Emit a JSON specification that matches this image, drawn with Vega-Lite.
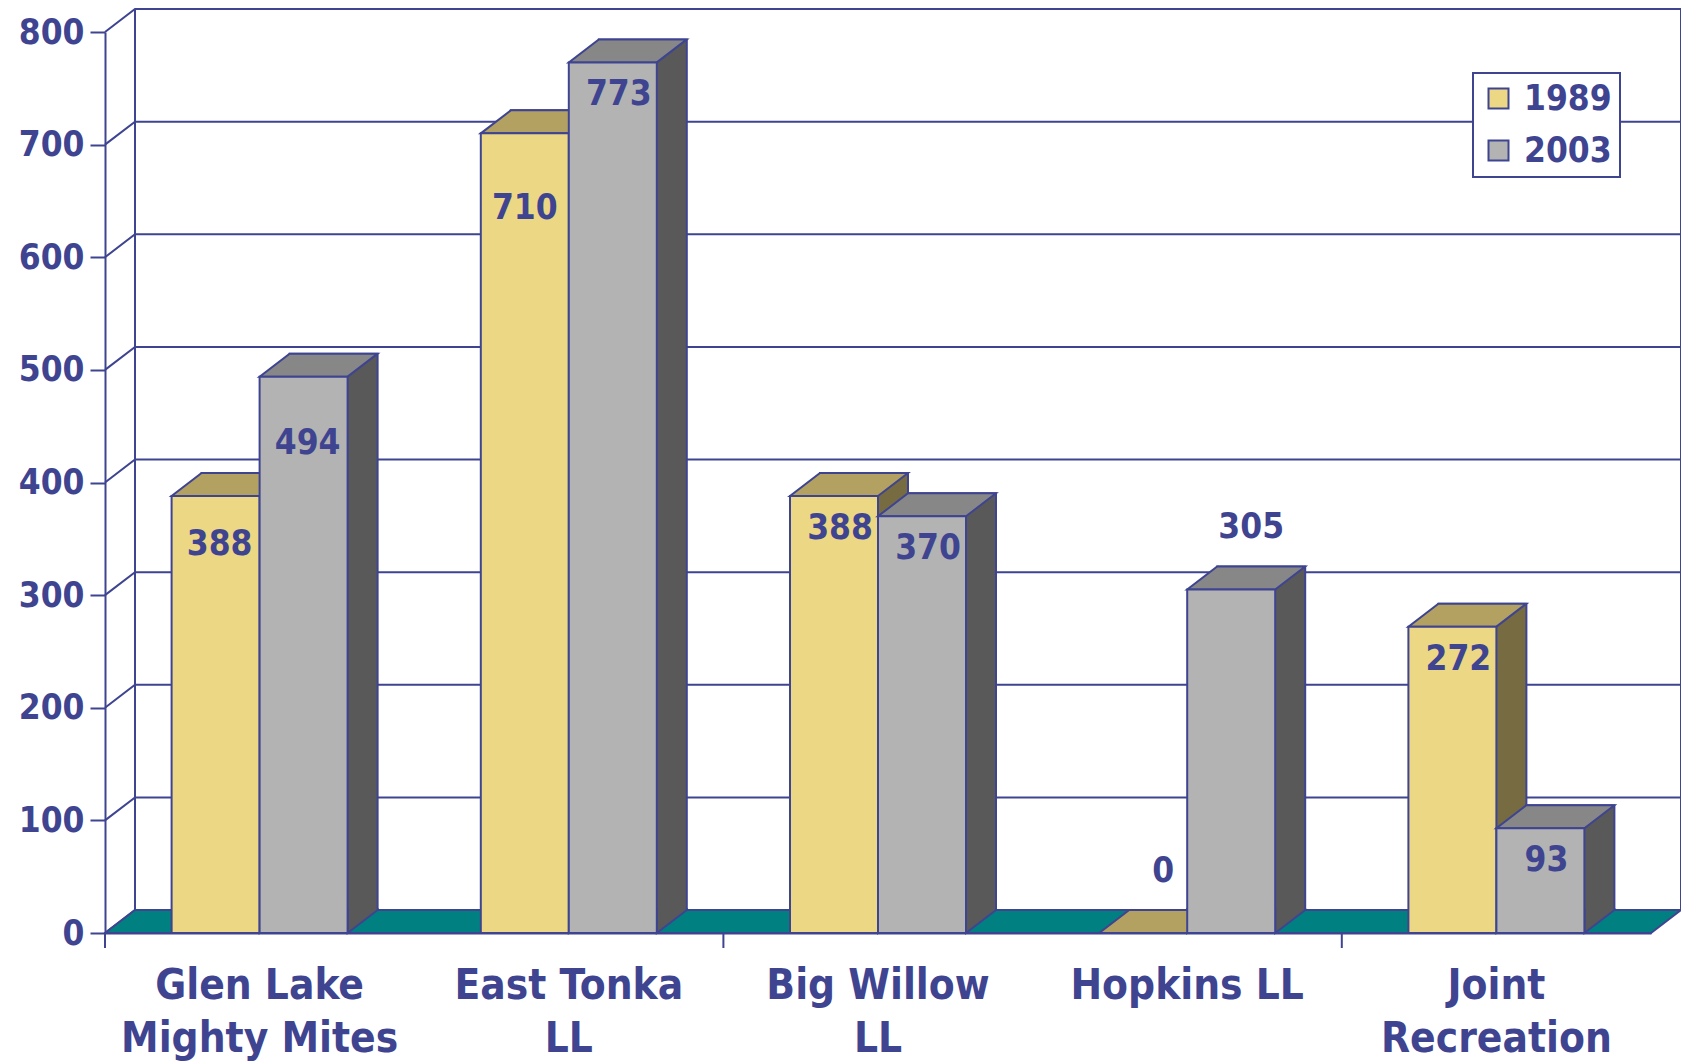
{
  "$schema": "https://vega.github.io/schema/vega-lite/v6.json",
  "width": 1546,
  "height": 901,
  "autosize": {"type": "none"},
  "padding": {"left": 105, "top": 32, "right": 30, "bottom": 128},
  "background": "white",
  "datasets": {
    "bars": [
      {"site": "Glen Lake Mighty Mites", "year": "1989", "count": 388},
      {"site": "Glen Lake Mighty Mites", "year": "2003", "count": 494},
      {"site": "East Tonka LL", "year": "1989", "count": 710},
      {"site": "East Tonka LL", "year": "2003", "count": 773},
      {"site": "Big Willow LL", "year": "1989", "count": 388},
      {"site": "Big Willow LL", "year": "2003", "count": 370},
      {"site": "Hopkins LL", "year": "1989", "count": 0},
      {"site": "Hopkins LL", "year": "2003", "count": 305},
      {"site": "Joint Recreation", "year": "1989", "count": 272},
      {"site": "Joint Recreation", "year": "2003", "count": 93}
    ],
    "ticks": [{"v": 0}, {"v": 100}, {"v": 200}, {"v": 300}, {"v": 400}, {"v": 500}, {"v": 600}, {"v": 700}, {"v": 800}]
  },
  "config": {
    "view": {"stroke": null},
    "font": "DejaVu Sans Condensed, DejaVu Sans",
    "legend": {"strokeColor": "#3f4491", "strokeWidth": 2, "fillColor": "white"},
    "axisX": {
      "ticks": false, "domain": true, "domainColor": "#3f4491", "domainWidth": 2,
      "labelFont": "DejaVu Sans Condensed, DejaVu Sans", "labelFontSize": 42, "labelFontWeight": "bold",
      "labelColor": "#3f4491", "labelAngle": 0, "labelPadding": 32, "labelLineHeight": 53, "labelLimit": 0,
      "grid": false,
      "labelExpr": "datum.value == 'Glen Lake Mighty Mites' ? ['Glen Lake', 'Mighty Mites'] : datum.value == 'East Tonka LL' ? ['East Tonka', 'LL'] : datum.value == 'Big Willow LL' ? ['Big Willow', 'LL'] : datum.value == 'Joint Recreation' ? ['Joint', 'Recreation'] : datum.value"
    },
    "axisY": {
      "ticks": true, "tickSize": 15, "tickWidth": 2, "tickColor": "#3f4491",
      "domain": true, "domainColor": "#3f4491", "domainWidth": 2,
      "labelFont": "DejaVu Sans Condensed, DejaVu Sans", "labelFontSize": 35, "labelFontWeight": "bold",
      "labelColor": "#3f4491", "labelPadding": 6, "grid": false, "tickCount": 8
    }
  },
  "layer": [
    {
      "data": {"name": "ticks"},
      "mark": {"type": "point", "shape": "M-773,0L-743,-23L803,-23", "size": 4, "filled": false, "stroke": "#3f4491", "strokeWidth": 2, "opacity": 1},
      "encoding": {"y": {"field": "v", "type": "quantitative", "title": null, "scale": {"domain": [0, 800], "nice": false}}}
    },
    {
      "data": {"name": "ticks"},
      "transform": [{"filter": "datum.v == 800"}],
      "mark": {"type": "point", "shape": "M-743,-23L-743,878M803,-23L803,878", "size": 4, "filled": false, "stroke": "#3f4491", "strokeWidth": 2, "opacity": 1},
      "encoding": {"y": {"field": "v", "type": "quantitative", "title": null}}
    },
    {
      "data": {"name": "ticks"},
      "transform": [{"filter": "datum.v == 0"}],
      "mark": {"type": "point", "shape": "M-773,0L773,0L803,-23L-743,-23Z", "size": 4, "filled": true, "fill": "#008080", "stroke": "#3f4491", "strokeWidth": 2, "opacity": 1},
      "encoding": {"y": {"field": "v", "type": "quantitative", "title": null}}
    },
    {
      "data": {"name": "bars"},
      "transform": [{"filter": "datum.year == '1989' && indexof(['Glen Lake Mighty Mites', 'Big Willow LL', 'Joint Recreation'], datum.site) >= 0"}],
      "mark": {"type": "point", "shape": "M0,0L0,15", "size": 4, "filled": false, "stroke": "#3f4491", "strokeWidth": 2, "opacity": 1},
      "encoding": {
        "x": {"field": "site", "type": "nominal", "bandPosition": 0, "title": null, "sort": ["Glen Lake Mighty Mites", "East Tonka LL", "Big Willow LL", "Hopkins LL", "Joint Recreation"], "scale": {"domain": ["Glen Lake Mighty Mites", "East Tonka LL", "Big Willow LL", "Hopkins LL", "Joint Recreation"], "paddingInner": 0, "paddingOuter": 0}},
        "y": {"datum": 0, "type": "quantitative", "title": null}
      }
    },
    {
      "data": {"name": "bars"},
      "transform": [{"filter": "datum.year == '1989'"}],
      "mark": {"type": "bar", "width": 88, "xOffset": -14, "yOffset": -23, "y2Offset": -23, "fill": "#766b41", "stroke": "#3f4491", "strokeWidth": 2},
      "encoding": {
        "x": {"field": "site", "type": "nominal", "title": null},
        "y": {"field": "count", "type": "quantitative", "title": null}
      }
    },
    {
      "data": {"name": "bars"},
      "transform": [{"filter": "datum.year == '1989'"}],
      "mark": {"type": "point", "shape": "M44,-25L44,0L74,-23L74,-25", "size": 4, "filled": true, "fill": "#766b41", "stroke": "#3f4491", "strokeWidth": 2, "opacity": 1, "xOffset": -44},
      "encoding": {
        "x": {"field": "site", "type": "nominal", "title": null},
        "y": {"datum": 0, "type": "quantitative", "title": null}
      }
    },
    {
      "data": {"name": "bars"},
      "transform": [{"filter": "datum.year == '1989'"}],
      "mark": {"type": "point", "shape": "M-44,0L44,0L74,-23L-14,-23Z", "size": 4, "filled": true, "fill": "#b3a162", "stroke": "#3f4491", "strokeWidth": 2, "opacity": 1, "xOffset": -44},
      "encoding": {
        "x": {"field": "site", "type": "nominal", "title": null},
        "y": {"field": "count", "type": "quantitative", "title": null}
      }
    },
    {
      "data": {"name": "bars"},
      "transform": [{"filter": "datum.year == '1989'"}],
      "mark": {"type": "bar", "width": 88, "xOffset": -44, "stroke": "#3f4491", "strokeWidth": 2, "opacity": 1},
      "encoding": {
        "x": {"field": "site", "type": "nominal", "title": null},
        "y": {"field": "count", "type": "quantitative", "title": null},
        "color": {
          "field": "year", "type": "nominal", "title": null,
          "scale": {"domain": ["1989", "2003"], "range": ["#ebd784", "#b3b3b3"]},
          "legend": {"orient": "none", "legendX": 1368, "legendY": 41, "symbolType": "square", "symbolSize": 400, "symbolStrokeColor": "#3f4491", "symbolStrokeWidth": 2, "symbolOpacity": 1, "labelFont": "DejaVu Sans Condensed, DejaVu Sans", "labelFontSize": 35, "labelFontWeight": "bold", "labelColor": "#3f4491", "labelOffset": 8, "rowPadding": 16, "padding": 8, "cornerRadius": 0}
        }
      }
    },
    {
      "data": {"name": "bars"},
      "transform": [{"filter": "datum.year == '2003'"}],
      "mark": {"type": "bar", "width": 88, "xOffset": 74, "yOffset": -23, "y2Offset": -23, "fill": "#595959", "stroke": "#3f4491", "strokeWidth": 2},
      "encoding": {
        "x": {"field": "site", "type": "nominal", "title": null},
        "y": {"field": "count", "type": "quantitative", "title": null}
      }
    },
    {
      "data": {"name": "bars"},
      "transform": [{"filter": "datum.year == '2003'"}],
      "mark": {"type": "point", "shape": "M44,-25L44,0L74,-23L74,-25", "size": 4, "filled": true, "fill": "#595959", "stroke": "#3f4491", "strokeWidth": 2, "opacity": 1, "xOffset": 44},
      "encoding": {
        "x": {"field": "site", "type": "nominal", "title": null},
        "y": {"datum": 0, "type": "quantitative", "title": null}
      }
    },
    {
      "data": {"name": "bars"},
      "transform": [{"filter": "datum.year == '2003'"}],
      "mark": {"type": "point", "shape": "M-44,0L44,0L74,-23L-14,-23Z", "size": 4, "filled": true, "fill": "#878787", "stroke": "#3f4491", "strokeWidth": 2, "opacity": 1, "xOffset": 44},
      "encoding": {
        "x": {"field": "site", "type": "nominal", "title": null},
        "y": {"field": "count", "type": "quantitative", "title": null}
      }
    },
    {
      "data": {"name": "bars"},
      "transform": [{"filter": "datum.year == '2003'"}],
      "mark": {"type": "bar", "width": 88, "xOffset": 44, "stroke": "#3f4491", "strokeWidth": 2, "opacity": 1},
      "encoding": {
        "x": {"field": "site", "type": "nominal", "title": null},
        "y": {"field": "count", "type": "quantitative", "title": null},
        "color": {
          "field": "year", "type": "nominal", "title": null,
          "scale": {"domain": ["1989", "2003"], "range": ["#ebd784", "#b3b3b3"]},
          "legend": {"orient": "none", "legendX": 1368, "legendY": 41, "symbolType": "square", "symbolSize": 400, "symbolStrokeColor": "#3f4491", "symbolStrokeWidth": 2, "symbolOpacity": 1, "labelFont": "DejaVu Sans Condensed, DejaVu Sans", "labelFontSize": 35, "labelFontWeight": "bold", "labelColor": "#3f4491", "labelOffset": 8, "rowPadding": 16, "padding": 8, "cornerRadius": 0}
        }
      }
    },
    {
      "data": {"name": "bars"},
      "transform": [{"filter": "(datum.site == 'Glen Lake Mighty Mites' && datum.year == '2003') || (datum.site == 'East Tonka LL' && datum.year == '1989')"}],
      "mark": {"type": "text", "dy": {"expr": "datum.year == '1989' ? 75 : 66"}, "dx": {"expr": "datum.year == '1989' ? -44 : 48"}, "baseline": "middle", "align": "center", "font": "DejaVu Sans Condensed, DejaVu Sans", "fontSize": 35, "fontWeight": "bold", "color": "#3f4491"},
      "encoding": {
        "x": {"field": "site", "type": "nominal", "title": null},
        "y": {"field": "count", "type": "quantitative", "title": null},
        "text": {"field": "count", "type": "quantitative"}
      }
    },
    {
      "data": {"name": "bars"},
      "transform": [{"filter": "datum.site == 'Glen Lake Mighty Mites' && datum.year == '1989'"}],
      "mark": {"type": "text", "dy": 48, "dx": -40, "baseline": "middle", "align": "center", "font": "DejaVu Sans Condensed, DejaVu Sans", "fontSize": 35, "fontWeight": "bold", "color": "#3f4491"},
      "encoding": {
        "x": {"field": "site", "type": "nominal", "title": null},
        "y": {"field": "count", "type": "quantitative", "title": null},
        "text": {"field": "count", "type": "quantitative"}
      }
    },
    {
      "data": {"name": "bars"},
      "transform": [{"filter": "datum.site != 'Hopkins LL' && datum.site != 'Glen Lake Mighty Mites' && !(datum.site == 'East Tonka LL' && datum.year == '1989')"}],
      "mark": {"type": "text", "dy": 32, "dx": {"expr": "datum.year == '1989' ? -38 : 50"}, "baseline": "middle", "align": "center", "font": "DejaVu Sans Condensed, DejaVu Sans", "fontSize": 35, "fontWeight": "bold", "color": "#3f4491"},
      "encoding": {
        "x": {"field": "site", "type": "nominal", "title": null},
        "y": {"field": "count", "type": "quantitative", "title": null},
        "text": {"field": "count", "type": "quantitative"}
      }
    },
    {
      "data": {"name": "bars"},
      "transform": [{"filter": "datum.site == 'Hopkins LL'"}],
      "mark": {"type": "text", "dy": -62, "dx": {"expr": "datum.year == '1989' ? -24 : 64"}, "baseline": "middle", "align": "center", "font": "DejaVu Sans Condensed, DejaVu Sans", "fontSize": 35, "fontWeight": "bold", "color": "#3f4491"},
      "encoding": {
        "x": {"field": "site", "type": "nominal", "title": null},
        "y": {"field": "count", "type": "quantitative", "title": null},
        "text": {"field": "count", "type": "quantitative"}
      }
    }
  ]
}
